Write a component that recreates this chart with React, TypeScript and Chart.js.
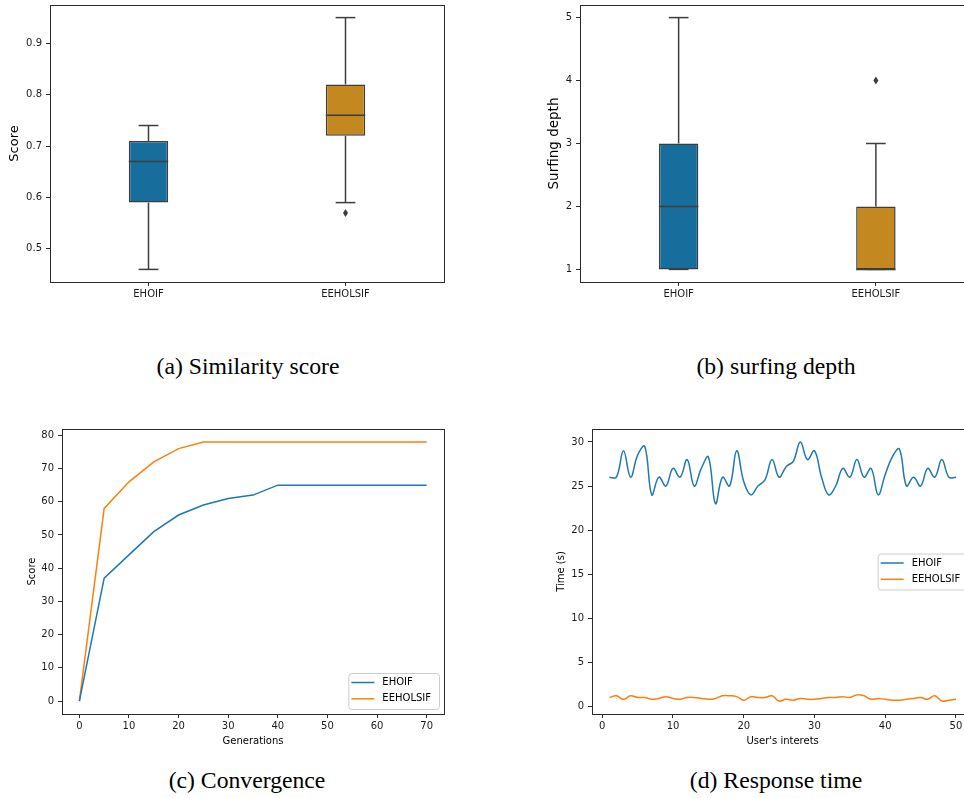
import React, { useEffect, useRef } from "react";
import { Chart, registerables } from "chart.js";

Chart.register(...registerables);

// ---------- data ----------
const boxCategories = ["EHOIF", "EEHOLSIF"];

// (a) similarity score box statistics
const scoreLow = [0.46, 0.59];
const scoreQ1 = [0.59, 0.72];
const scoreMedian = [0.67, 0.76];
const scoreQ3 = [0.71, 0.82];
const scoreHigh = [0.74, 0.95];
const scoreOutliers: number[][] = [[], [0.57]];
const scoreTicks = [0.5, 0.6, 0.7, 0.8, 0.9];

// (b) surfing depth box statistics
const depthLow = [1, 1];
const depthQ1 = [1, 1];
const depthMedian = [2, 1];
const depthQ3 = [3, 2];
const depthHigh = [5, 3];
const depthOutliers: number[][] = [[], [4]];
const depthTicks = [1, 2, 3, 4, 5];

// (c) convergence
const generations = [0, 5, 10, 15, 20, 25, 30, 35, 40, 45, 50, 55, 60, 65, 70];
const convEHOIF = [0, 37, 44, 51, 56, 59, 61, 62, 65, 65, 65, 65, 65, 65, 65];
const convEEHOLSIF = [0, 58, 66, 72, 76, 78, 78, 78, 78, 78, 78, 78, 78, 78, 78];
const generationTicks = [0, 10, 20, 30, 40, 50, 60, 70];
const convTicks = [0, 10, 20, 30, 40, 50, 60, 70, 80];

// (d) response time
const userInterests = [
  1, 2, 3, 4, 5, 6, 7, 8, 9, 10, 11, 12, 13, 14, 15, 16, 17, 18, 19, 20, 21, 22, 23, 24, 25,
  26, 27, 28, 29, 30, 31, 32, 33, 34, 35, 36, 37, 38, 39, 40, 41, 42, 43, 44, 45, 46, 47, 48, 49, 50,
];
const timeEHOIF = [
  26, 26, 29, 26, 28.5, 29.5, 24, 26, 25, 27, 26, 28, 25, 27, 28.3, 23, 26, 25, 29, 25.5, 24, 25, 25.7, 28, 26,
  27.2, 27.8, 30, 28, 29, 26, 24, 25, 27, 26, 28, 26, 27, 24, 26.3, 28.3, 29.2, 25, 26, 25, 27, 26, 28, 26, 26,
];
const timeEEHOLSIF = [
  1.0, 1.2, 0.8, 1.2, 1.0, 1.0, 0.8, 0.9, 1.1, 0.9, 0.8, 1.0, 1.0, 0.9, 0.8, 0.9, 1.2, 1.2, 1.1, 0.7, 1.1, 1.0, 1.0, 1.2, 0.6,
  0.8, 0.7, 0.9, 0.8, 0.8, 0.9, 1.0, 1.0, 1.1, 1.0, 1.3, 1.2, 0.8, 0.9, 0.8, 0.7, 0.7, 0.8, 0.9, 1.0, 0.8, 1.2, 0.6, 0.7, 0.8,
];
const userTicks = [0, 10, 20, 30, 40, 50];
const timeTicks = [0, 5, 10, 15, 20, 25, 30];

// ---------- styles ----------
const FONT = "'DejaVu Sans', sans-serif";
const TICK_COLOR = "#1a1a1a";
const SPINE = "#2b2b2b";
const EDGE = "#3d3d3d";
const BOX_COLORS = ["#176d9c", "#c38820"];
const BLUE = "#1f77b4";
const ORANGE = "#ff7f0e";

const framePlugin = {
  id: "frame",
  afterDraw(chart: any) {
    const { ctx, chartArea: a } = chart;
    ctx.save();
    ctx.strokeStyle = SPINE;
    ctx.lineWidth = 1;
    ctx.strokeRect(
      Math.round(a.left) + 0.5,
      Math.round(a.top) + 0.5,
      Math.round(a.right) - Math.round(a.left),
      Math.round(a.bottom) - Math.round(a.top)
    );
    ctx.restore();
  },
};

function makeBoxPlugin(low: number[], med: number[], high: number[], q1: number[], q3: number[], outliers: number[][]) {
  return {
    id: "boxWhiskers",
    afterDatasetsDraw(chart: any) {
      const { ctx, scales } = chart;
      const x = scales.x;
      const y = scales.y;
      const meta = chart.getDatasetMeta(0);
      ctx.save();
      ctx.strokeStyle = EDGE;
      ctx.fillStyle = EDGE;
      ctx.lineWidth = 1.5;
      const line = (x1: number, y1: number, x2: number, y2: number) => {
        ctx.beginPath();
        ctx.moveTo(x1, y1);
        ctx.lineTo(x2, y2);
        ctx.stroke();
      };
      low.forEach((_, i) => {
        const cx = x.getPixelForValue(i);
        const half = meta.data[i].width / 2;
        const cap = half / 2;
        const pLow = y.getPixelForValue(low[i]);
        const pHigh = y.getPixelForValue(high[i]);
        const pQ1 = y.getPixelForValue(q1[i]);
        const pQ3 = y.getPixelForValue(q3[i]);
        const pMed = y.getPixelForValue(med[i]);
        line(cx, pQ1, cx, pLow);
        line(cx - cap, pLow, cx + cap, pLow);
        line(cx, pQ3, cx, pHigh);
        line(cx - cap, pHigh, cx + cap, pHigh);
        line(cx - half, pMed, cx + half, pMed);
        outliers[i].forEach((v) => {
          const py = y.getPixelForValue(v);
          ctx.beginPath();
          ctx.moveTo(cx, py - 4);
          ctx.lineTo(cx + 2.5, py);
          ctx.lineTo(cx, py + 4);
          ctx.lineTo(cx - 2.5, py);
          ctx.closePath();
          ctx.fill();
        });
      });
      ctx.restore();
    },
  };
}

function makeLegendPlugin(place: "lowerRight" | "centerRight") {
  return {
    id: "mplLegend",
    afterDraw(chart: any) {
      const { ctx, chartArea: a } = chart;
      const ds = chart.data.datasets;
      ctx.save();
      ctx.font = `10px ${FONT}`;
      const tw = Math.max(...ds.map((d: any) => ctx.measureText(d.label).width));
      const w = 34 + tw + 8;
      const h = 36;
      const x0 = a.right - 5 - w;
      const y0 = place === "lowerRight" ? a.bottom - 5 - h : (a.top + a.bottom) / 2 - h / 2;
      ctx.beginPath();
      ctx.roundRect(x0 + 0.5, y0 + 0.5, w, h, 3);
      ctx.fillStyle = "rgba(255,255,255,0.8)";
      ctx.fill();
      ctx.strokeStyle = "#cccccc";
      ctx.lineWidth = 1;
      ctx.stroke();
      ds.forEach((d: any, i: number) => {
        const yy = y0 + 9.5 + i * 16.3;
        ctx.strokeStyle = d.borderColor;
        ctx.lineWidth = 1.5;
        ctx.beginPath();
        ctx.moveTo(x0 + 3, yy);
        ctx.lineTo(x0 + 26, yy);
        ctx.stroke();
        ctx.fillStyle = "#000";
        ctx.textBaseline = "middle";
        ctx.textAlign = "left";
        ctx.fillText(d.label, x0 + 34, yy);
      });
      ctx.restore();
    },
  };
}

const tickFont = { family: FONT, size: 10 };
const grid = { drawOnChartArea: false, drawTicks: true, tickLength: 4, color: SPINE, lineWidth: 1 };

function setTicks(values: number[]) {
  return (s: any) => {
    s.ticks = values.map((v) => ({ value: v }));
  };
}

function fitY(width: number) {
  return (s: any) => {
    s.width = width;
    s.paddingTop = 0;
    s.paddingBottom = 0;
  };
}

function fitX(height: number) {
  return (s: any) => {
    s.height = height;
    s.paddingLeft = 0;
    s.paddingRight = 0;
  };
}

function boxConfig(
  low: number[], q1: number[], med: number[], q3: number[], high: number[], outliers: number[][],
  ticks: number[], yMin: number, yMax: number, yTitle: string, titleSize: number, titlePad: number,
  axisWidth: number, padRight: number
): any {
  return {
    type: "bar",
    data: {
      labels: boxCategories,
      datasets: [
        {
          data: boxCategories.map((_, i) => [q1[i], q3[i]]),
          backgroundColor: BOX_COLORS,
          borderColor: EDGE,
          borderWidth: 1.5,
          borderSkipped: false,
          categoryPercentage: 1,
          barPercentage: 0.2,
        },
      ],
    },
    options: {
      animation: false,
      responsive: false,
      devicePixelRatio: 1,
      layout: { padding: { top: 5, right: padRight, left: 0, bottom: 0 } },
      plugins: { legend: { display: false }, tooltip: { enabled: false } },
      scales: {
        x: {
          type: "category",
          offset: true,
          grid: { ...grid, offset: false },
          border: { display: false },
          ticks: { font: tickFont, color: TICK_COLOR, padding: 2, maxRotation: 0 },
          afterFit: fitX(28),
        },
        y: {
          type: "linear",
          min: yMin,
          max: yMax,
          grid,
          border: { display: false },
          afterBuildTicks: setTicks(ticks),
          afterFit: fitY(axisWidth),
          ticks: { font: tickFont, color: TICK_COLOR, padding: 4 },
          title: {
            display: true,
            text: yTitle,
            color: "#000",
            font: { family: FONT, size: titleSize },
            padding: { top: titlePad, bottom: 0 },
          },
        },
      },
    },
    plugins: [makeBoxPlugin(low, med, high, q1, q3, outliers), framePlugin],
  };
}

function lineConfig(
  xs: number[], s1: number[], s2: number[], xTicks: number[], yTicks: number[],
  xMin: number, xMax: number, yMin: number, yMax: number,
  xTitle: string, yTitle: string, yTitlePad: number, axisWidth: number, padRight: number,
  tension: number, legendPlace: "lowerRight" | "centerRight"
): any {
  return {
    type: "line",
    data: {
      datasets: [
        { label: "EHOIF", data: xs.map((x, i) => ({ x, y: s1[i] })), borderColor: BLUE, borderWidth: 1.5, pointRadius: 0, tension, fill: false },
        { label: "EEHOLSIF", data: xs.map((x, i) => ({ x, y: s2[i] })), borderColor: ORANGE, borderWidth: 1.5, pointRadius: 0, tension, fill: false },
      ],
    },
    options: {
      animation: false,
      responsive: false,
      devicePixelRatio: 1,
      layout: { padding: { top: 9, right: padRight, left: 0, bottom: 0 } },
      plugins: { legend: { display: false }, tooltip: { enabled: false } },
      scales: {
        x: {
          type: "linear",
          min: xMin,
          max: xMax,
          grid,
          border: { display: false },
          afterBuildTicks: setTicks(xTicks),
          afterFit: fitX(41),
          ticks: { font: tickFont, color: TICK_COLOR, padding: 2, maxRotation: 0 },
          title: {
            display: true,
            text: xTitle,
            color: "#000",
            font: { family: FONT, size: 10 },
            padding: { top: 0, bottom: 8 },
          },
        },
        y: {
          type: "linear",
          min: yMin,
          max: yMax,
          grid,
          border: { display: false },
          afterBuildTicks: setTicks(yTicks),
          afterFit: fitY(axisWidth),
          ticks: { font: tickFont, color: TICK_COLOR, padding: 4 },
          title: {
            display: true,
            text: yTitle,
            color: "#000",
            font: { family: FONT, size: 10 },
            padding: { top: yTitlePad, bottom: 0 },
          },
        },
      },
    },
    plugins: [framePlugin, makeLegendPlugin(legendPlace)],
  };
}

function ChartCanvas(props: { left: number; top: number; width: number; height: number; make: () => any }) {
  const ref = useRef<HTMLCanvasElement>(null);
  useEffect(() => {
    const chart = new Chart(ref.current as HTMLCanvasElement, props.make());
    return () => chart.destroy();
  }, []);
  return (
    <canvas
      ref={ref}
      width={props.width}
      height={props.height}
      style={{ position: "absolute", left: props.left, top: props.top, width: props.width, height: props.height }}
    />
  );
}

function Caption(props: { cx: number; top: number; text: string }) {
  return (
    <div
      style={{
        position: "absolute",
        left: props.cx - 200,
        top: props.top,
        width: 400,
        textAlign: "center",
        fontFamily: "'Liberation Serif', 'Times New Roman', serif",
        fontSize: 23.7,
        lineHeight: "24px",
        color: "#000",
        whiteSpace: "nowrap",
      }}
    >
      {props.text}
    </div>
  );
}

export default function App() {
  return (
    <div style={{ position: "absolute", left: 0, top: 0, width: 964, height: 798, overflow: "hidden", background: "#fff" }}>
      <ChartCanvas
        left={0}
        top={0}
        width={460}
        height={310}
        make={() =>
          boxConfig(scoreLow, scoreQ1, scoreMedian, scoreQ3, scoreHigh, scoreOutliers, scoreTicks, 0.4355, 0.9745, "Score", 13, 6.5, 50, 16)
        }
      />
      <ChartCanvas
        left={500}
        top={0}
        width={490}
        height={310}
        make={() =>
          boxConfig(depthLow, depthQ1, depthMedian, depthQ3, depthHigh, depthOutliers, depthTicks, 0.8, 5.2, "Surfing depth", 13.5, 46, 80, 15.5)
        }
      />
      <ChartCanvas
        left={0}
        top={420}
        width={460}
        height={335}
        make={() =>
          lineConfig(generations, convEHOIF, convEEHOLSIF, generationTicks, convTicks, -3.5, 73.5, -3.9, 81.9, "Generations", "Score", 26, 62, 16, 0, "lowerRight")
        }
      />
      <ChartCanvas
        left={500}
        top={420}
        width={490}
        height={335}
        make={() =>
          lineConfig(userInterests, timeEHOIF, timeEEHOLSIF, userTicks, timeTicks, -1.45, 52.45, -0.87, 31.47, "User's interets", "Time (s)", 55, 92, 16.7, 0.4, "centerRight")
        }
      />
      <Caption cx={248} top={354} text="(a) Similarity score" />
      <Caption cx={776} top={354} text="(b) surfing depth" />
      <Caption cx={247} top={768} text="(c) Convergence" />
      <Caption cx={776} top={768} text="(d) Response time" />
    </div>
  );
}
